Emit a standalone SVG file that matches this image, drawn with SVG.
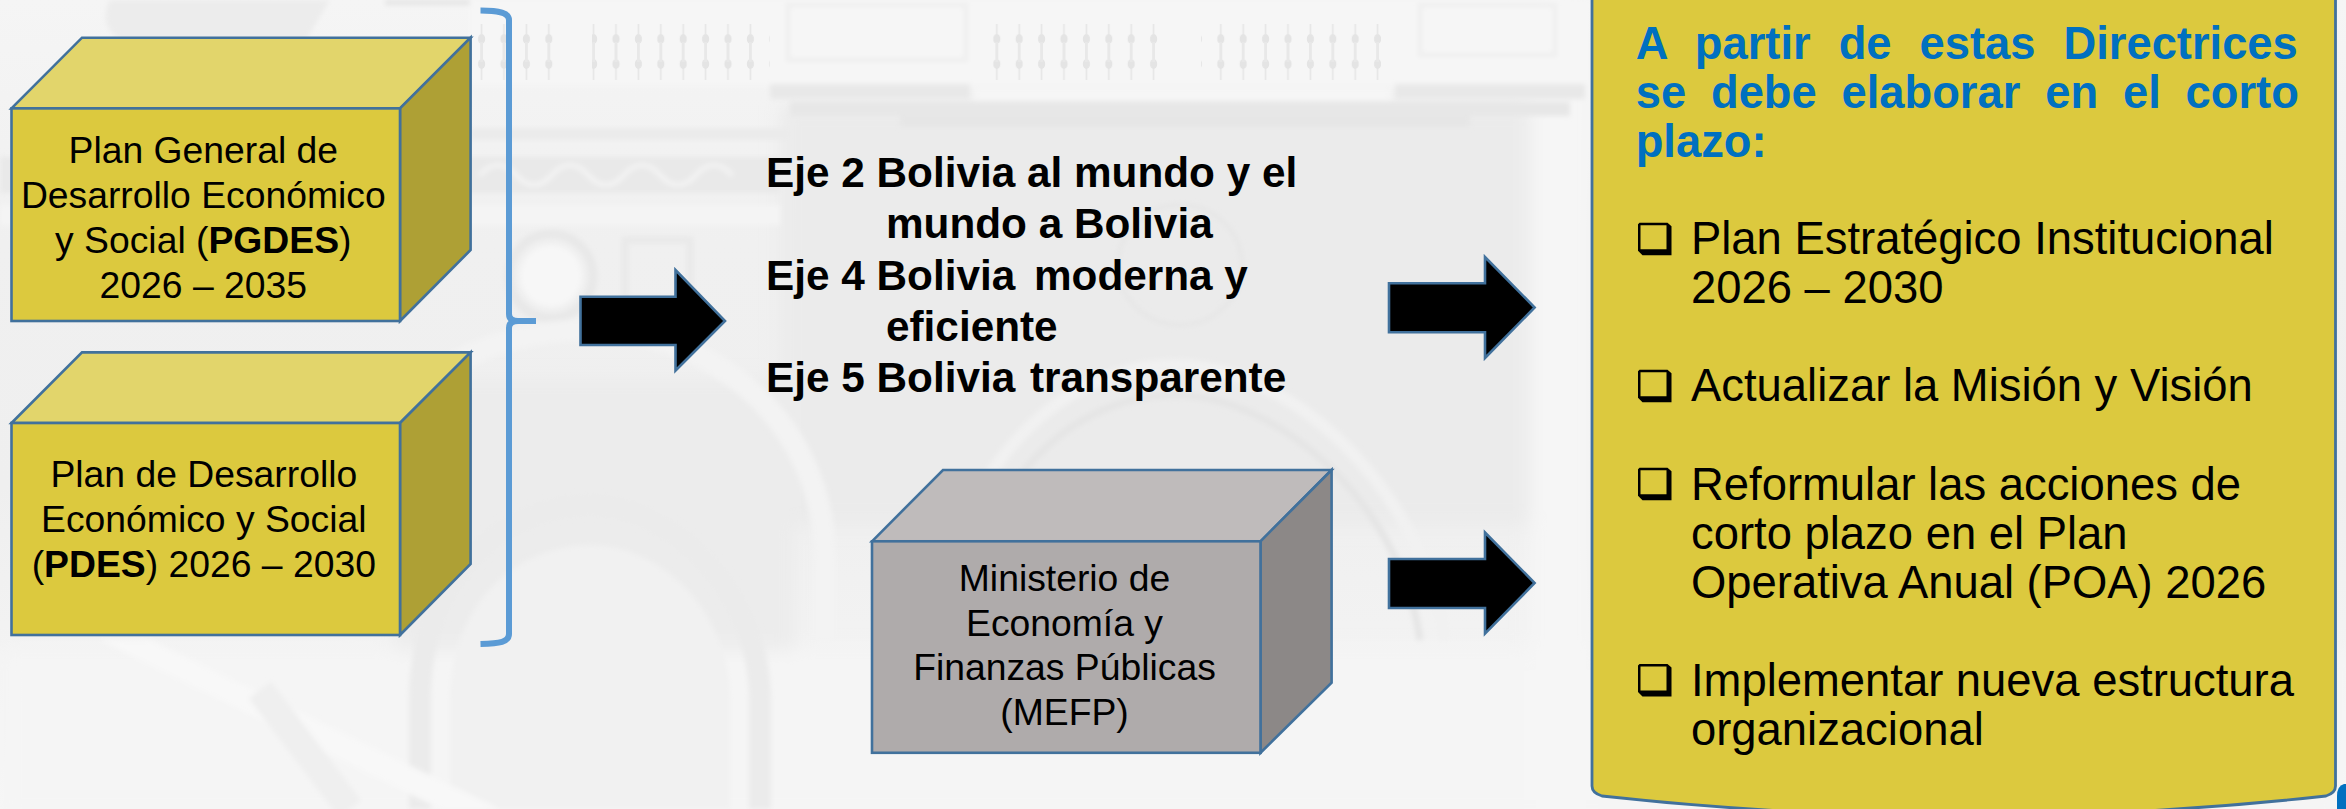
<svg xmlns="http://www.w3.org/2000/svg" xmlns:xlink="http://www.w3.org/1999/xlink" width="2346" height="809" viewBox="0 0 2346 809">
<style>
text{font-family:"Liberation Sans",Arial,sans-serif;fill:#000}
.box{font-size:37.3px;text-anchor:middle}
.eje{font-size:42.3px;font-weight:700}
.hd{font-size:45.3px;font-weight:700;fill:#0070C0}
.li{font-size:45.4px}
.edge{stroke:#41719C;stroke-width:2.6;stroke-linejoin:miter}
.yf{fill:#DCC93E}.yt{fill:#E2D56B}.ys{fill:#AEA035}
.gf{fill:#AFABAB}.gt{fill:#BFBBBB}.gs{fill:#8C8887}
.arrow{fill:#000;stroke:#41719C;stroke-width:2.6}
</style>
<defs>
<linearGradient id="bgv" x1="0" y1="0" x2="0" y2="1">
<stop offset="0" stop-color="#f5f5f5"/><stop offset=".3" stop-color="#f0f0f0"/><stop offset=".6" stop-color="#efefef"/><stop offset="1" stop-color="#f6f6f6"/>
</linearGradient>
<filter id="soft" x="-5%" y="-5%" width="110%" height="110%"><feGaussianBlur stdDeviation="2.500"/></filter>
<filter id="wide" x="-10%" y="-10%" width="120%" height="120%"><feGaussianBlur stdDeviation="9"/></filter>
<filter id="fine" x="-2%" y="-5%" width="104%" height="110%"><feGaussianBlur stdDeviation=".7"/></filter>
<pattern id="bal" width="22.4" height="60" patternUnits="userSpaceOnUse" y="22">
<path d="M11.2 2V12M11.2 46V58" stroke="#e6e6e6" stroke-width="1.6"/>
<ellipse cx="11.2" cy="17" rx="3.6" ry="5" fill="#e4e4e4"/><ellipse cx="11.2" cy="42" rx="3.6" ry="5" fill="#e4e4e4"/>
<path d="M11.2 20V40" stroke="#e8e8e8" stroke-width="3"/>
</pattern>
<path id="bullet" fill="#000" fill-rule="evenodd" d="M1.500 0H29.500L33.500 3.500V32.500H4.500L0 28V1.500ZM2.500 2.500V26.500H28.500V2.500Z"/>
</defs>

<g id="background">
<rect width="2346" height="809" fill="url(#bgv)"/>
<g filter="url(#wide)">
<rect x="780" y="105" width="800" height="420" fill="#ebebeb"/>
<rect x="395" y="380" width="400" height="280" fill="#ececec"/>
<rect x="0" y="650" width="2346" height="170" fill="#f5f5f5"/>
<rect x="1530" y="0" width="62" height="809" fill="#f6f6f6"/>
</g>
<g filter="url(#soft)">
<path d="M110 0C95 30 120 50 170 50H300L330 0Z" fill="#ececec"/>
<rect x="385" y="0" width="400" height="5" fill="#e4e4e4"/>
<rect x="1000" y="0" width="365" height="5" fill="#e5e5e5"/>
<rect x="470" y="0" width="1120" height="85" fill="#f6f6f6"/>
<rect x="788" y="5" width="178" height="55" fill="none" stroke="#eeeeee" stroke-width="4"/>
<rect x="1420" y="5" width="135" height="50" fill="none" stroke="#eeeeee" stroke-width="4"/>
<rect x="770" y="84" width="200" height="15" fill="#e8e8e8"/>
<rect x="1395" y="84" width="190" height="15" fill="#e8e8e8"/>
<rect x="975" y="88" width="415" height="12" fill="#f6f6f6"/>
<rect x="790" y="102" width="780" height="14" fill="#e7e7e7"/>
<rect x="900" y="115" width="570" height="12" fill="#e6e6e6"/>
<rect x="470" y="128" width="320" height="12" fill="#ebebeb"/>
<rect x="0" y="157" width="780" height="36" fill="#e9e9e9"/>
<path d="M480 175q18-20 36 0t36 0t36 0t36 0t36 0t36 0t36 0" fill="none" stroke="#f6f6f6" stroke-width="3.500"/>
<rect x="0" y="205" width="780" height="20" fill="#f4f4f4"/>
<circle cx="551" cy="276" r="42" fill="none" stroke="#e8e8e8" stroke-width="9"/>
<circle cx="551" cy="276" r="31" fill="#f7f7f7"/>
<path d="M625 240h65v60h-65z" fill="none" stroke="#e9e9e9" stroke-width="7"/>
<path d="M350 640V560C350 395 470 330 590 330S825 420 825 560V640" fill="none" stroke="#f3f3f3" stroke-width="22"/>
<path d="M420 809V700C420 570 510 505 590 505S760 590 760 700V809" fill="none" stroke="#ebebeb" stroke-width="22"/>
<path d="M450 809V700C450 600 520 545 590 545S730 610 730 700V809" fill="#f1f1f1"/>
<path d="M960 640C975 480 1075 395 1175 395S1400 500 1420 640" fill="none" stroke="#e5e5e5" stroke-width="7"/>
<path d="M935 640C955 460 1065 365 1175 365S1420 480 1445 640" fill="none" stroke="#f1f1f1" stroke-width="12"/>
<ellipse cx="1180" cy="265" rx="62" ry="60" fill="none" stroke="#e6e6e6" stroke-width="4"/>
<path d="M150 640L500 809H440L100 640Z" fill="#f8f8f8"/>
<path d="M260 690L350 809" stroke="#efefef" stroke-width="28"/>
</g>
<g filter="url(#fine)">
<rect x="470" y="22" width="86" height="60" fill="url(#bal)"/>
<rect x="592" y="22" width="178" height="60" fill="url(#bal)"/>
<rect x="981" y="22" width="180" height="60" fill="url(#bal)"/>
<rect x="1201" y="22" width="180" height="60" fill="url(#bal)"/>
</g>
</g>

<g id="connectors">
<path id="brace" d="M480.500 10.500C500 10.500 509 13 509 20V314Q509 321 518 321H536M518 321Q509 321 509 328V634C509 642 500 643.500 480.500 644" fill="none" stroke="#5B9BD5" stroke-width="6"/>
<polygon id="arrow-a" class="arrow" points="580.500,296.700 675.500,296.700 675.500,270 725,321 675.500,370.500 675.500,345 580.500,345"/>
<polygon id="arrow-b" class="arrow" points="1389,283.300 1485,283.300 1485,257 1534.600,307.500 1485,358 1485,332.300 1389,332.300"/>
<polygon id="arrow-c" class="arrow" points="1389,559 1485,559 1485,532.500 1534.600,583 1485,633.600 1485,608 1389,608"/>
</g>

<g id="node-pgdes">
<polygon class="yt edge" points="11.500,108.400 82,37.700 470.600,37.700 400,108.400"/>
<polygon class="ys edge" points="400,108.400 470.600,37.700 470.600,250 400,321"/>
<rect class="yf edge" x="11.500" y="108.400" width="388.500" height="212.600"/>
<text class="box" x="203.300" y="163">Plan General de</text>
<text class="box" x="203.300" y="208">Desarrollo Económico</text>
<text class="box" x="203.300" y="252.800">y Social (<tspan font-weight="700">PGDES</tspan>)</text>
<text class="box" x="203.300" y="298">2026 – 2035</text>
</g>

<g id="node-pdes">
<polygon class="yt edge" points="11.500,423 82,352.400 470.600,352.400 400,423"/>
<polygon class="ys edge" points="400,423 470.600,352.400 470.600,564 400,635"/>
<rect class="yf edge" x="11.500" y="423" width="388.500" height="212"/>
<text class="box" x="203.800" y="487">Plan de Desarrollo</text>
<text class="box" x="203.800" y="532">Económico y Social</text>
<text class="box" x="203.800" y="577">(<tspan font-weight="700">PDES</tspan>) 2026 – 2030</text>
</g>

<g id="node-ejes">
<text class="eje" x="766" y="186.800">Eje 2 Bolivia al mundo y el</text>
<text class="eje" x="886" y="238.400">mundo a Bolivia</text>
<text class="eje" x="766" y="290">Eje 4 Bolivia <tspan dx="7">moderna y</tspan></text>
<text class="eje" x="886" y="340.600">eficiente</text>
<text class="eje" x="766" y="392">Eje 5 Bolivia <tspan dx="3">transparente</tspan></text>
</g>

<g id="node-mefp">
<polygon class="gt edge" points="872,541.300 943,470 1331.600,470 1260.500,541.300"/>
<polygon class="gs edge" points="1260.500,541.300 1331.600,470 1331.600,682.700 1260.500,752.800"/>
<rect class="gf edge" x="872" y="541.300" width="388.500" height="211.500"/>
<text class="box" x="1064.500" y="590.800">Ministerio de</text>
<text class="box" x="1064.500" y="635.700">Economía y</text>
<text class="box" x="1064.500" y="680">Finanzas Públicas</text>
<text class="box" x="1064.500" y="725">(MEFP)</text>
</g>

<g id="node-panel">
<path d="M1592 -6V786Q1592 793 1602 796Q1964 836 2326 796Q2335.500 793 2335.500 786V-6Z" fill="#DCC93E" stroke="#41719C" stroke-width="2.800"/>
<text class="hd" x="1635.700" y="58.900" style="word-spacing:15.500px">A partir de estas Directrices</text>
<text class="hd" x="1635.700" y="108" style="word-spacing:12.300px">se debe elaborar en el corto</text>
<text class="hd" x="1635.700" y="156.700">plazo:</text>
<use xlink:href="#bullet" href="#bullet" x="1638" y="222.700"/>
<text class="li" x="1691" y="254.400">Plan Estratégico Institucional</text>
<text class="li" x="1691" y="303.400">2026 – 2030</text>
<use xlink:href="#bullet" href="#bullet" x="1638" y="369.700"/>
<text class="li" x="1691" y="401.400">Actualizar la Misión y Visión</text>
<use xlink:href="#bullet" href="#bullet" x="1638" y="467.800"/>
<text class="li" x="1691" y="499.500">Reformular las acciones de</text>
<text class="li" x="1691" y="548.500">corto plazo en el Plan</text>
<text class="li" x="1691" y="597.500">Operativa Anual (POA) 2026</text>
<use xlink:href="#bullet" href="#bullet" x="1638" y="663.900"/>
<text class="li" x="1691" y="695.600">Implementar nueva estructura</text>
<text class="li" x="1691" y="744.600">organizacional</text>
</g>

<path id="corner-stub" d="M2346 784H2344Q2337 786 2337 796V809H2346Z" fill="#0070C0"/>
</svg>
